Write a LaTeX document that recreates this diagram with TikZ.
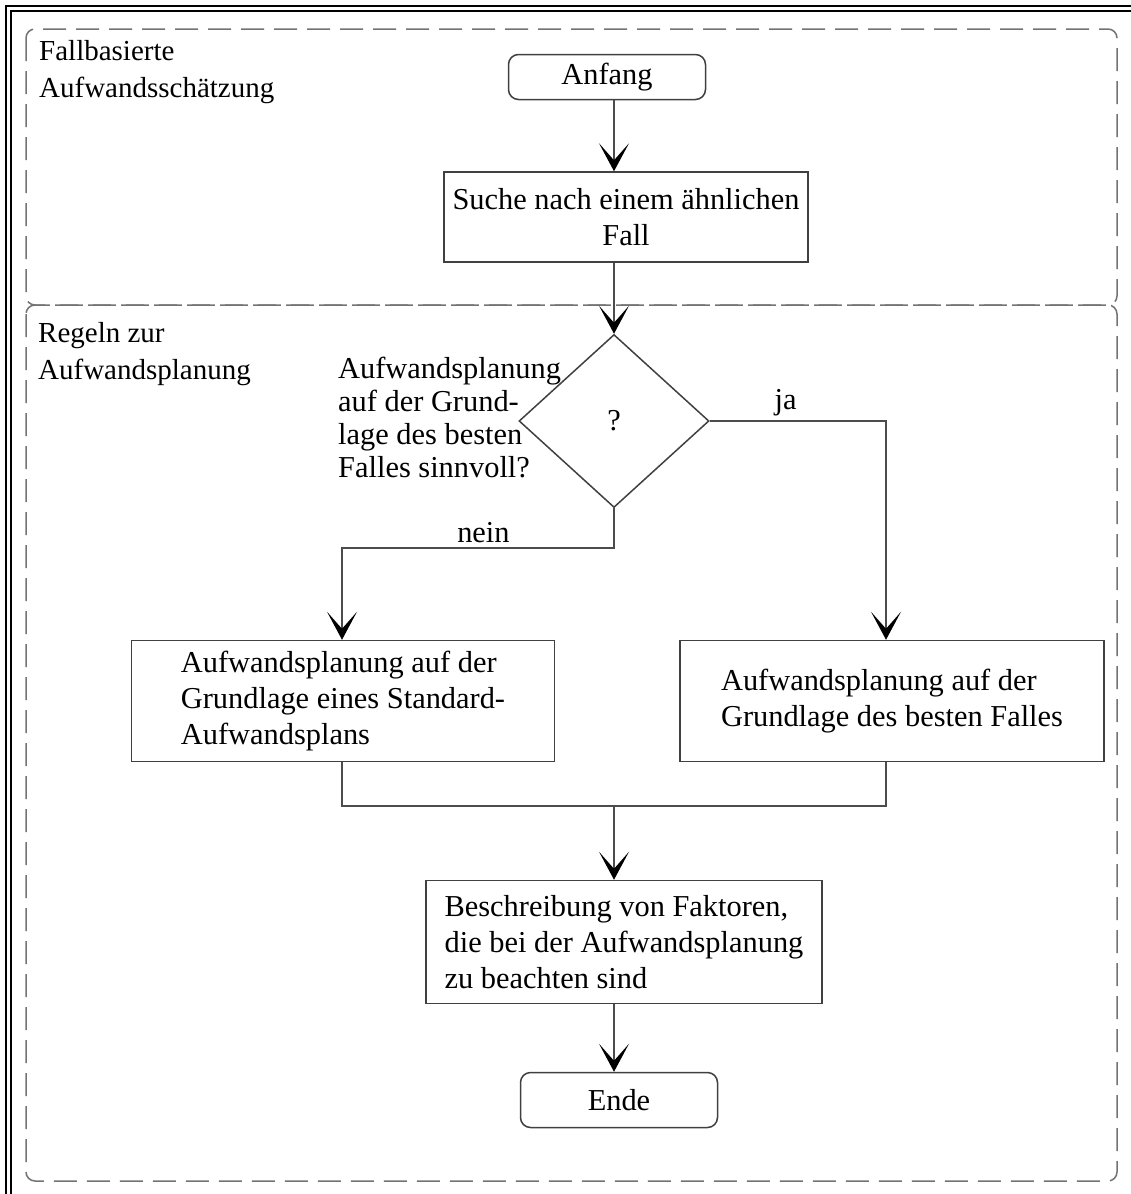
\documentclass[tikz,border=0pt]{standalone}
\usepackage{fontspec}
\setmainfont{Liberation Serif}
\usetikzlibrary{arrows.meta, shapes.geometric}

\tikzset{
    procbox/.style={draw=black!75, line width=1.5pt, align=left, inner sep=0pt},
    termbox/.style={procbox, rounded corners=10pt},
    decbox/.style={diamond, draw=black!75, line width=1.5pt, inner sep=0pt,
        minimum width=190pt, minimum height=173pt},
    lane/.style={draw=black!55, line width=1.5pt, dash pattern=on 23pt off 10pt,
        rounded corners=9pt},
    flow/.style={draw=black!70, line width=1.5pt,
        -{Stealth[length=28pt, width=30pt, inset=17pt, color=black]}},
    link/.style={draw=black!70, line width=1.5pt},
    lanelabel/.style={anchor=north west, align=left, inner sep=0pt,
        font=\fontsize{29}{37}\selectfont}
}

\begin{document}
\begin{tikzpicture}[x=1pt, y=-1pt, font=\fontsize{30.4}{36}\selectfont]
        \useasboundingbox (0,0) rectangle (1131,1194);

        % frame (cut off at the right and bottom) and lanes
        \draw[line width=2pt] (6,1194) -- (6,6) -- (1131,6);
        \draw[line width=2pt] (11,1194) -- (11,11) -- (1131,11);
        \draw[lane] (26,29) rectangle (1117,305);
        \draw[lane] (26,305) rectangle (1117,1181);
        \node[lanelabel] (lanetop) at (39,40) {Fallbasierte\\Aufwandsschätzung};
        \node[lanelabel] (lanebot) at (38,322) {Regeln zur\\Aufwandsplanung};

        \def\midx{614}

        \node[termbox, minimum width=197pt, minimum height=45pt, align=center]
            (start) at (607,77) {Anfang};
        \node[procbox, minimum width=364pt, minimum height=90pt, align=center]
            (search) at (626,217) {Suche nach einem ähnlichen\\Fall};
        \node[decbox] (dec) at (\midx,421) {?};
        \node[lanelabel, font=\fontsize{30.4}{33}\selectfont] (question) at (338,357)
            {Aufwandsplanung\\auf der Grund-\\lage des besten\\Falles sinnvoll?};
        \node[procbox, minimum width=423pt, minimum height=121pt]
            (plannein) at (343,701)
            {Aufwandsplanung auf der\\Grundlage eines Standard-\\Aufwandsplans};
        \node[procbox, minimum width=424pt, minimum height=121pt]
            (planja) at (892,701)
            {Aufwandsplanung auf der\\Grundlage des besten Falles};
        \node[procbox, minimum width=396pt, minimum height=123pt]
            (factors) at (624,942)
            {Beschreibung von Faktoren,\\die bei der Aufwandsplanung\\zu beachten sind};
        \node[termbox, minimum width=197pt, minimum height=55pt, align=center]
            (stop) at (619,1100) {Ende};

        \coordinate (jaturn) at (886,421);
        \coordinate (neinturn) at (342,548);
        \coordinate (joinl) at (342,806);
        \coordinate (joinr) at (886,806);
        \coordinate (join) at (\midx,806);

        \draw[flow] (start.south -| dec.north) -- (search.north -| dec.north);
        \draw[flow] (search.south -| dec.north) -- (dec.north);
        \draw[flow] (dec.east) -- (jaturn) node[pos=0.43, above=1pt] {ja}
            -- (jaturn |- planja.north);
        \draw[flow] (dec.south) |- (neinturn) node[pos=0.74, above=1pt] {nein}
            -- (neinturn |- plannein.north);
        \draw[link] (joinl |- plannein.south) -- (joinl) -- (joinr)
            -- (joinr |- planja.south);
        \draw[flow] (join) -- (join |- factors.north);
        \draw[flow] (factors.south -| join) -- (stop.north -| join);

    \end{tikzpicture}
\end{document}
